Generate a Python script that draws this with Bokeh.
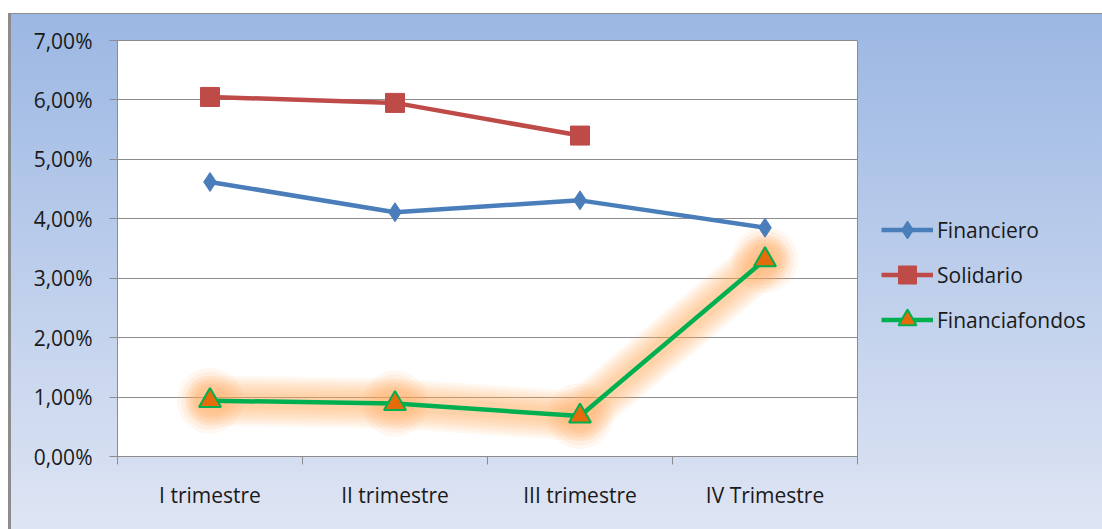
from bokeh.plotting import figure
from bokeh.models import Range1d, FixedTicker, Legend, LegendItem
from bokeh.embed import file_html
from bokeh.resources import INLINE

categories = ["I trimestre", "II trimestre", "III trimestre", "IV Trimestre"]
financiero = [4.62, 4.11, 4.31, 3.85]
solidario = [6.05, 5.95, 5.40]
financiafondos = [0.94, 0.89, 0.68, 3.31]
y_ticks = [0, 1, 2, 3, 4, 5, 6, 7]
y_tick_labels = ["0,00%", "1,00%", "2,00%", "3,00%", "4,00%", "5,00%", "6,00%", "7,00%"]

x_pos = [2 * i + 1 for i in range(len(categories))]
x_bounds = [2 * i for i in range(len(categories) + 1)]

FONT = "Open Sans"
GRAY = "#8c8c8c"

p = figure(frame_width=740, frame_height=416, x_range=Range1d(0, 2 * len(categories)),
           y_range=Range1d(y_ticks[0], y_ticks[-1]),
           output_backend="svg", toolbar_location=None,
           min_border_left=117, min_border_right=245, min_border_top=40, min_border_bottom=73)

p.styles = {"background": "linear-gradient(#8c8c8c, #8c8c8c) 8px 13px / 3px 100% no-repeat, "
                          "linear-gradient(#8c8c8c, #8c8c8c) 8px 13px / 100% 1px no-repeat, "
                          "linear-gradient(to bottom, #9bb7e3, #e0e6f4) 8px 13px / 100% 100% no-repeat, "
                          "white"}
p.border_fill_color = None
p.background_fill_color = "white"
p.outline_line_color = GRAY

p.xgrid.visible = False
p.ygrid.grid_line_color = GRAY
p.ygrid.ticker = FixedTicker(ticks=y_ticks)

ya = p.yaxis[0]
ya.ticker = FixedTicker(ticks=y_ticks)
ya.major_label_overrides = dict(zip(y_ticks, y_tick_labels))
ya.axis_line_color = GRAY
ya.major_tick_line_color = GRAY
ya.major_tick_in = 0
ya.major_tick_out = 8
ya.minor_tick_line_color = None
ya.major_label_standoff = 17
ya.major_label_text_font = FONT
ya.major_label_text_font_size = "21px"
ya.major_label_text_color = "#1a1a1a"

xa = p.xaxis[0]
xa.ticker = FixedTicker(ticks=x_pos, minor_ticks=x_bounds)
xa.major_label_overrides = dict(zip(x_pos, categories))
xa.axis_line_color = GRAY
xa.major_tick_line_color = None
xa.major_tick_in = 0
xa.major_tick_out = 8
xa.minor_tick_line_color = GRAY
xa.minor_tick_in = 0
xa.minor_tick_out = 8
xa.major_label_standoff = 16
xa.major_label_text_font = FONT
xa.major_label_text_font_size = "21px"
xa.major_label_text_color = "#1a1a1a"

# soft orange glow around Financiafondos
for w in [50, 45, 40, 35, 30, 25, 20, 15]:
    p.line(x_pos, financiafondos, line_width=w, line_color="#faaa5e", line_alpha=0.085,
           line_join="round", line_cap="round")
for s in [66, 58, 50, 42, 34]:
    p.scatter(x_pos, financiafondos, size=s, marker="circle", fill_color="#faaa5e",
              fill_alpha=0.09, line_color=None)

bl = p.line(x_pos, financiero, line_width=4.5, line_color="#4a7ebb")
bm = p.scatter(x_pos, financiero, marker="diamond", size=19, fill_color="#4a7ebb",
               line_color="#4a7ebb")
rl = p.line(x_pos[:len(solidario)], solidario, line_width=4.5, line_color="#be4b48")
rm = p.scatter(x_pos[:len(solidario)], solidario, marker="square", size=19,
               fill_color="#be4b48", line_color="#be4b48")
gl = p.line(x_pos, financiafondos, line_width=4.5, line_color="#00b050")
gm = p.scatter(x_pos, financiafondos, marker="triangle", size=22, fill_color="#e46c0a",
               line_color="#00b050", line_width=2)

legend = Legend(items=[LegendItem(label="Financiero", renderers=[bl, bm]),
                       LegendItem(label="Solidario", renderers=[rl, rm]),
                       LegendItem(label="Financiafondos", renderers=[gl, gm])],
                location=(24, 114), glyph_width=52, glyph_height=45, label_standoff=4,
                spacing=0, padding=0, margin=0, border_line_color=None,
                background_fill_alpha=0, label_text_font=FONT,
                label_text_font_size="21px", label_height=21, label_text_color="#1a1a1a")
p.add_layout(legend, "right")

open("out.html", "w").write(file_html(p, INLINE))
